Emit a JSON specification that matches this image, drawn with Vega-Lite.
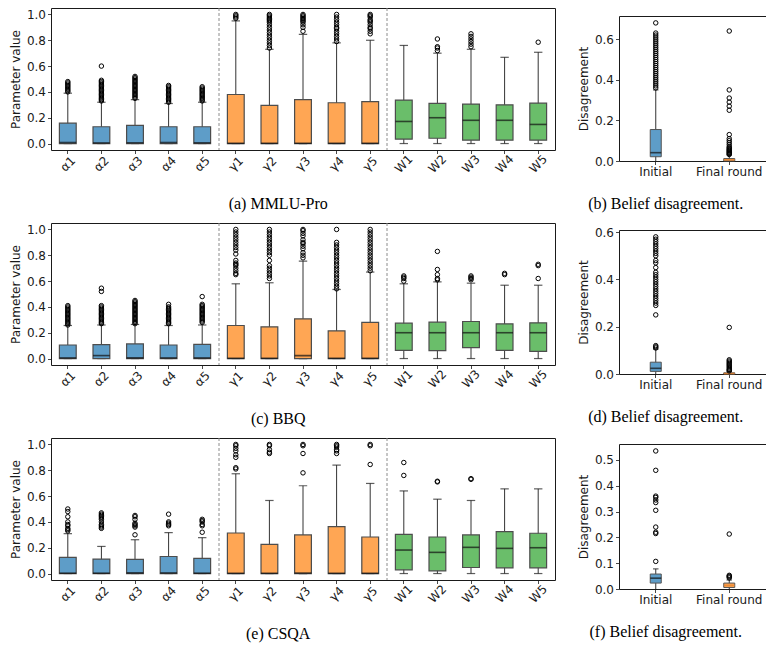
{
  "$schema": "https://vega.github.io/schema/vega-lite/v6.json",
  "padding": {"left": 8, "top": 7, "right": 0, "bottom": 0},
  "background": "white",
  "datasets": {
    "sep": [{"param": "α5"}, {"param": "γ5"}],
    "box": [
      {"ds": "MMLU-Pro", "param": "α1", "grp": "a", "lo": 0, "q1": 0, "med": 0.008, "q3": 0.158, "hi": 0.39},
      {"ds": "MMLU-Pro", "param": "α2", "grp": "a", "lo": 0, "q1": 0, "med": 0.005, "q3": 0.13, "hi": 0.32},
      {"ds": "MMLU-Pro", "param": "α3", "grp": "a", "lo": 0, "q1": 0, "med": 0.006, "q3": 0.14, "hi": 0.34},
      {"ds": "MMLU-Pro", "param": "α4", "grp": "a", "lo": 0, "q1": 0, "med": 0.008, "q3": 0.13, "hi": 0.31},
      {"ds": "MMLU-Pro", "param": "α5", "grp": "a", "lo": 0, "q1": 0, "med": 0.006, "q3": 0.13, "hi": 0.32},
      {"ds": "MMLU-Pro", "param": "γ1", "grp": "g", "lo": 0, "q1": 0, "med": 0.002, "q3": 0.38, "hi": 0.95},
      {"ds": "MMLU-Pro", "param": "γ2", "grp": "g", "lo": 0, "q1": 0, "med": 0.002, "q3": 0.295, "hi": 0.73},
      {"ds": "MMLU-Pro", "param": "γ3", "grp": "g", "lo": 0, "q1": 0, "med": 0.002, "q3": 0.34, "hi": 0.845},
      {"ds": "MMLU-Pro", "param": "γ4", "grp": "g", "lo": 0, "q1": 0, "med": 0.002, "q3": 0.316, "hi": 0.78},
      {"ds": "MMLU-Pro", "param": "γ5", "grp": "g", "lo": 0, "q1": 0, "med": 0.002, "q3": 0.324, "hi": 0.8},
      {"ds": "MMLU-Pro", "param": "W1", "grp": "w", "lo": 0, "q1": 0.034, "med": 0.171, "q3": 0.337, "hi": 0.76},
      {"ds": "MMLU-Pro", "param": "W2", "grp": "w", "lo": 0, "q1": 0.041, "med": 0.2, "q3": 0.311, "hi": 0.7},
      {"ds": "MMLU-Pro", "param": "W3", "grp": "w", "lo": 0, "q1": 0.026, "med": 0.18, "q3": 0.306, "hi": 0.73},
      {"ds": "MMLU-Pro", "param": "W4", "grp": "w", "lo": 0, "q1": 0.026, "med": 0.18, "q3": 0.3, "hi": 0.668},
      {"ds": "MMLU-Pro", "param": "W5", "grp": "w", "lo": 0, "q1": 0.026, "med": 0.148, "q3": 0.313, "hi": 0.707},
      {"ds": "BBQ", "param": "α1", "grp": "a", "lo": 0, "q1": 0, "med": 0.005, "q3": 0.105, "hi": 0.256},
      {"ds": "BBQ", "param": "α2", "grp": "a", "lo": 0, "q1": 0, "med": 0.023, "q3": 0.108, "hi": 0.26},
      {"ds": "BBQ", "param": "α3", "grp": "a", "lo": 0, "q1": 0, "med": 0.005, "q3": 0.113, "hi": 0.264},
      {"ds": "BBQ", "param": "α4", "grp": "a", "lo": 0, "q1": 0, "med": 0.005, "q3": 0.105, "hi": 0.256},
      {"ds": "BBQ", "param": "α5", "grp": "a", "lo": 0, "q1": 0, "med": 0.005, "q3": 0.11, "hi": 0.26},
      {"ds": "BBQ", "param": "γ1", "grp": "g", "lo": 0, "q1": 0, "med": 0.002, "q3": 0.256, "hi": 0.579},
      {"ds": "BBQ", "param": "γ2", "grp": "g", "lo": 0, "q1": 0, "med": 0.002, "q3": 0.246, "hi": 0.587},
      {"ds": "BBQ", "param": "γ3", "grp": "g", "lo": 0, "q1": 0, "med": 0.023, "q3": 0.308, "hi": 0.755},
      {"ds": "BBQ", "param": "γ4", "grp": "g", "lo": 0, "q1": 0, "med": 0.002, "q3": 0.215, "hi": 0.535},
      {"ds": "BBQ", "param": "γ5", "grp": "g", "lo": 0, "q1": 0, "med": 0.002, "q3": 0.28, "hi": 0.67},
      {"ds": "BBQ", "param": "W1", "grp": "w", "lo": 0, "q1": 0.064, "med": 0.2, "q3": 0.274, "hi": 0.579},
      {"ds": "BBQ", "param": "W2", "grp": "w", "lo": 0, "q1": 0.062, "med": 0.2, "q3": 0.282, "hi": 0.594},
      {"ds": "BBQ", "param": "W3", "grp": "w", "lo": 0, "q1": 0.085, "med": 0.2, "q3": 0.287, "hi": 0.584},
      {"ds": "BBQ", "param": "W4", "grp": "w", "lo": 0, "q1": 0.064, "med": 0.2, "q3": 0.269, "hi": 0.568},
      {"ds": "BBQ", "param": "W5", "grp": "w", "lo": 0, "q1": 0.056, "med": 0.2, "q3": 0.277, "hi": 0.568},
      {"ds": "CSQA", "param": "α1", "grp": "a", "lo": 0, "q1": 0, "med": 0.003, "q3": 0.125, "hi": 0.309},
      {"ds": "CSQA", "param": "α2", "grp": "a", "lo": 0, "q1": 0, "med": 0.003, "q3": 0.112, "hi": 0.21},
      {"ds": "CSQA", "param": "α3", "grp": "a", "lo": 0, "q1": 0, "med": 0.005, "q3": 0.109, "hi": 0.262},
      {"ds": "CSQA", "param": "α4", "grp": "a", "lo": 0, "q1": 0, "med": 0.005, "q3": 0.132, "hi": 0.317},
      {"ds": "CSQA", "param": "α5", "grp": "a", "lo": 0, "q1": 0, "med": 0.003, "q3": 0.117, "hi": 0.278},
      {"ds": "CSQA", "param": "γ1", "grp": "g", "lo": 0, "q1": 0, "med": 0.002, "q3": 0.314, "hi": 0.773},
      {"ds": "CSQA", "param": "γ2", "grp": "g", "lo": 0, "q1": 0, "med": 0.002, "q3": 0.226, "hi": 0.566},
      {"ds": "CSQA", "param": "γ3", "grp": "g", "lo": 0, "q1": 0, "med": 0.004, "q3": 0.299, "hi": 0.68},
      {"ds": "CSQA", "param": "γ4", "grp": "g", "lo": 0, "q1": 0, "med": 0.002, "q3": 0.364, "hi": 0.84},
      {"ds": "CSQA", "param": "γ5", "grp": "g", "lo": 0, "q1": 0, "med": 0.002, "q3": 0.283, "hi": 0.698},
      {"ds": "CSQA", "param": "W1", "grp": "w", "lo": 0, "q1": 0.029, "med": 0.182, "q3": 0.304, "hi": 0.64},
      {"ds": "CSQA", "param": "W2", "grp": "w", "lo": 0, "q1": 0.021, "med": 0.164, "q3": 0.283, "hi": 0.576},
      {"ds": "CSQA", "param": "W3", "grp": "w", "lo": 0, "q1": 0.047, "med": 0.203, "q3": 0.299, "hi": 0.566},
      {"ds": "CSQA", "param": "W4", "grp": "w", "lo": 0, "q1": 0.044, "med": 0.195, "q3": 0.325, "hi": 0.656},
      {"ds": "CSQA", "param": "W5", "grp": "w", "lo": 0, "q1": 0.044, "med": 0.2, "q3": 0.312, "hi": 0.656}
    ],
    "out": [
      {"ds": "MMLU-Pro", "param": "α1", "v": [0.40, 0.41, 0.42, 0.43, 0.44, 0.45, 0.46, 0.47, 0.48]},
      {"ds": "MMLU-Pro", "param": "α2", "v": [0.33, 0.34, 0.35, 0.36, 0.37, 0.38, 0.39, 0.40, 0.41, 0.42, 0.43, 0.44, 0.45, 0.46, 0.47, 0.48, 0.49, 0.60]},
      {"ds": "MMLU-Pro", "param": "α3", "v": [0.35, 0.36, 0.37, 0.38, 0.39, 0.40, 0.41, 0.42, 0.43, 0.44, 0.45, 0.46, 0.47, 0.48, 0.49, 0.50, 0.51, 0.52]},
      {"ds": "MMLU-Pro", "param": "α4", "v": [0.32, 0.33, 0.34, 0.35, 0.36, 0.37, 0.38, 0.39, 0.40, 0.41, 0.42, 0.43, 0.44, 0.45]},
      {"ds": "MMLU-Pro", "param": "α5", "v": [0.33, 0.34, 0.35, 0.36, 0.37, 0.38, 0.39, 0.40, 0.41, 0.42, 0.43, 0.44]},
      {"ds": "MMLU-Pro", "param": "γ1", "v": [0.97, 0.98, 0.99, 1.0]},
      {"ds": "MMLU-Pro", "param": "γ2", "v": [0.74, 0.76, 0.78, 0.80, 0.82, 0.84, 0.86, 0.88, 0.90, 0.92, 0.94, 0.95, 0.96, 0.97, 0.98, 0.99, 1.0]},
      {"ds": "MMLU-Pro", "param": "γ3", "v": [0.87, 0.90, 0.92, 0.94, 0.95, 0.96, 0.97, 0.98, 0.99, 1.0]},
      {"ds": "MMLU-Pro", "param": "γ4", "v": [0.79, 0.81, 0.83, 0.85, 0.87, 0.89, 0.90, 0.92, 0.94, 0.96, 0.98, 1.0]},
      {"ds": "MMLU-Pro", "param": "γ5", "v": [0.85, 0.87, 0.89, 0.90, 0.92, 0.94, 0.95, 0.96, 0.98, 0.99, 1.0]},
      {"ds": "MMLU-Pro", "param": "W2", "v": [0.72, 0.74, 0.75, 0.81]},
      {"ds": "MMLU-Pro", "param": "W3", "v": [0.75, 0.77, 0.79, 0.81, 0.83, 0.85]},
      {"ds": "MMLU-Pro", "param": "W5", "v": [0.785]},
      {"ds": "BBQ", "param": "α1", "v": [0.26, 0.27, 0.28, 0.29, 0.30, 0.31, 0.32, 0.33, 0.34, 0.35, 0.36, 0.37, 0.38, 0.39, 0.40, 0.41]},
      {"ds": "BBQ", "param": "α2", "v": [0.27, 0.28, 0.29, 0.30, 0.31, 0.32, 0.33, 0.34, 0.35, 0.36, 0.37, 0.38, 0.39, 0.40, 0.41, 0.52, 0.545]},
      {"ds": "BBQ", "param": "α3", "v": [0.27, 0.28, 0.29, 0.30, 0.31, 0.32, 0.33, 0.34, 0.35, 0.36, 0.37, 0.38, 0.39, 0.40, 0.41, 0.42, 0.43, 0.44, 0.45]},
      {"ds": "BBQ", "param": "α4", "v": [0.27, 0.28, 0.29, 0.30, 0.31, 0.32, 0.33, 0.34, 0.35, 0.36, 0.37, 0.38, 0.39, 0.40, 0.42]},
      {"ds": "BBQ", "param": "α5", "v": [0.28, 0.29, 0.30, 0.31, 0.32, 0.33, 0.34, 0.35, 0.36, 0.37, 0.38, 0.39, 0.40, 0.41, 0.42, 0.48]},
      {"ds": "BBQ", "param": "γ1", "v": [0.65, 0.66, 0.68, 0.70, 0.72, 0.73, 0.74, 0.76, 0.81, 0.84, 0.86, 0.88, 0.90, 0.92, 0.94, 0.96, 0.98, 1.0]},
      {"ds": "BBQ", "param": "γ2", "v": [0.62, 0.64, 0.66, 0.68, 0.70, 0.72, 0.76, 0.80, 0.82, 0.84, 0.86, 0.88, 0.90, 0.92, 0.94, 0.96, 0.98, 1.0]},
      {"ds": "BBQ", "param": "γ3", "v": [0.78, 0.80, 0.82, 0.85, 0.87, 0.89, 0.90, 0.92, 0.95, 0.97, 0.99, 1.0]},
      {"ds": "BBQ", "param": "γ4", "v": [0.54, 0.56, 0.58, 0.60, 0.62, 0.64, 0.66, 0.68, 0.70, 0.72, 0.74, 0.76, 0.78, 0.80, 0.82, 0.84, 0.86, 0.88, 0.90, 1.0]},
      {"ds": "BBQ", "param": "γ5", "v": [0.68, 0.70, 0.72, 0.74, 0.76, 0.78, 0.80, 0.82, 0.84, 0.86, 0.88, 0.90, 0.92, 0.94, 0.96, 0.98, 1.0]},
      {"ds": "BBQ", "param": "W1", "v": [0.60, 0.62, 0.63, 0.64]},
      {"ds": "BBQ", "param": "W2", "v": [0.61, 0.62, 0.65, 0.69, 0.83]},
      {"ds": "BBQ", "param": "W3", "v": [0.61, 0.62, 0.63, 0.64]},
      {"ds": "BBQ", "param": "W4", "v": [0.65, 0.66]},
      {"ds": "BBQ", "param": "W5", "v": [0.62, 0.72, 0.73]},
      {"ds": "CSQA", "param": "α1", "v": [0.33, 0.34, 0.35, 0.37, 0.38, 0.40, 0.44, 0.48, 0.50]},
      {"ds": "CSQA", "param": "α2", "v": [0.35, 0.36, 0.37, 0.38, 0.40, 0.42, 0.43, 0.44, 0.45, 0.46, 0.47]},
      {"ds": "CSQA", "param": "α3", "v": [0.30, 0.36, 0.37, 0.38, 0.39, 0.42, 0.44, 0.45]},
      {"ds": "CSQA", "param": "α4", "v": [0.37, 0.38, 0.39, 0.40, 0.46]},
      {"ds": "CSQA", "param": "α5", "v": [0.32, 0.37, 0.38, 0.40, 0.41, 0.42]},
      {"ds": "CSQA", "param": "γ1", "v": [0.81, 0.82, 0.90, 0.92, 0.95, 0.97, 0.99, 1.0]},
      {"ds": "CSQA", "param": "γ2", "v": [0.93, 0.94, 0.96, 0.99, 1.0]},
      {"ds": "CSQA", "param": "γ3", "v": [0.78, 0.93, 0.99, 1.0]},
      {"ds": "CSQA", "param": "γ4", "v": [0.93, 0.95, 0.96, 0.98, 0.99, 1.0]},
      {"ds": "CSQA", "param": "γ5", "v": [0.845, 0.99, 1.0]},
      {"ds": "CSQA", "param": "W1", "v": [0.76, 0.86]},
      {"ds": "CSQA", "param": "W2", "v": [0.71, 0.715]},
      {"ds": "CSQA", "param": "W3", "v": [0.73, 0.735]}
    ],
    "dbox": [
      {"ds": "MMLU-Pro", "stage": "Initial", "lo": 0, "q1": 0.021, "med": 0.041, "q3": 0.155, "hi": 0.35},
      {"ds": "MMLU-Pro", "stage": "Final round", "lo": 0, "q1": 0, "med": 0.006, "q3": 0.012, "hi": 0.03},
      {"ds": "BBQ", "stage": "Initial", "lo": 0, "q1": 0.011, "med": 0.024, "q3": 0.05, "hi": 0.105},
      {"ds": "BBQ", "stage": "Final round", "lo": 0, "q1": 0, "med": 0.002, "q3": 0.005, "hi": 0.011},
      {"ds": "CSQA", "stage": "Initial", "lo": 0, "q1": 0.023, "med": 0.042, "q3": 0.058, "hi": 0.078},
      {"ds": "CSQA", "stage": "Final round", "lo": 0, "q1": 0.006, "med": 0.014, "q3": 0.023, "hi": 0.035}
    ],
    "dout": [
      {"ds": "MMLU-Pro", "stage": "Initial", "v": [0.36, 0.37, 0.38, 0.39, 0.40, 0.41, 0.42, 0.43, 0.44, 0.45, 0.46, 0.47, 0.48, 0.49, 0.50, 0.51, 0.52, 0.53, 0.54, 0.55, 0.56, 0.57, 0.58, 0.59, 0.60, 0.61, 0.62, 0.63, 0.68]},
      {"ds": "MMLU-Pro", "stage": "Final round", "v": [0.032, 0.036, 0.04, 0.044, 0.048, 0.052, 0.056, 0.06, 0.065, 0.07, 0.08, 0.09, 0.10, 0.11, 0.13, 0.25, 0.27, 0.29, 0.31, 0.35, 0.64]},
      {"ds": "BBQ", "stage": "Initial", "v": [0.11, 0.115, 0.12, 0.25, 0.29, 0.30, 0.31, 0.32, 0.33, 0.34, 0.35, 0.36, 0.37, 0.38, 0.39, 0.40, 0.41, 0.42, 0.43, 0.45, 0.47, 0.48, 0.50, 0.51, 0.52, 0.53, 0.54, 0.55, 0.56, 0.57, 0.58]},
      {"ds": "BBQ", "stage": "Final round", "v": [0.013, 0.017, 0.02, 0.025, 0.03, 0.035, 0.04, 0.045, 0.05, 0.055, 0.06, 0.197]},
      {"ds": "CSQA", "stage": "Initial", "v": [0.107, 0.215, 0.22, 0.24, 0.305, 0.335, 0.345, 0.355, 0.36, 0.46, 0.535]},
      {"ds": "CSQA", "stage": "Final round", "v": [0.043, 0.047, 0.05, 0.053, 0.213]}
    ]
  },
  "config": {
    "view": {"stroke": "#1a1a1a", "strokeWidth": 1},
    "axis": {"grid": false, "domain": false, "tickColor": "#1a1a1a", "tickSize": 3.5, "tickWidth": 0.8, "labelFont": "DejaVu Sans", "labelFontSize": 12, "labelColor": "#1a1a1a", "labelPadding": 2, "labelOverlap": false, "titleFont": "DejaVu Sans", "titleFontSize": 12, "titleFontWeight": "normal", "titleColor": "#1a1a1a", "titlePadding": 4},
    "title": {"font": "Liberation Serif", "fontSize": 16, "fontWeight": "normal", "color": "#000000"}
  },
  "hconcat": [
    {
      "spacing": 9,
      "vconcat": [
        {
          "width": 504, "height": 142,
          "title": {"text": "(a) MMLU-Pro", "orient": "bottom", "anchor": "middle", "frame": "bounds", "offset": 21, "dx": -4},
          "encoding": {"x": {"field": "param", "type": "nominal", "title": null, "sort": null, "scale": {"type": "band", "domain": ["α1", "α2", "α3", "α4", "α5", "γ1", "γ2", "γ3", "γ4", "γ5", "W1", "W2", "W3", "W4", "W5"], "paddingInner": 0, "paddingOuter": 0}, "axis": {"labelAngle": -45, "labelAlign": "center", "labelBaseline": "middle", "labelPadding": 10}}},
          "layer": [
            {"data": {"name": "sep"}, "mark": {"type": "rule", "color": "#8c8c8c", "strokeDash": [3, 2], "strokeWidth": 1}, "encoding": {"x": {"field": "param", "type": "nominal", "bandPosition": 1}}},
            {"data": {"name": "box"}, "transform": [{"filter": "datum.ds === 'MMLU-Pro'"}], "mark": {"type": "rule", "color": "#333333", "strokeWidth": 1}, "encoding": {"y": {"field": "lo", "type": "quantitative", "title": "Parameter value", "scale": {"domain": [-0.05, 1.05], "nice": false, "zero": false}, "axis": {"values": [0, 0.2, 0.4, 0.6, 0.8, 1], "tickCount": 20, "format": ".1f", "labelOverlap": false}}, "y2": {"field": "hi"}}},
            {"data": {"name": "box"}, "transform": [{"filter": "datum.ds === 'MMLU-Pro'"}], "mark": {"type": "tick", "size": 8.4, "thickness": 1.2, "color": "#1a1a1a"}, "encoding": {"y": {"field": "hi", "type": "quantitative", "title": "Parameter value"}}},
            {"data": {"name": "box"}, "transform": [{"filter": "datum.ds === 'MMLU-Pro'"}], "mark": {"type": "tick", "size": 8.4, "thickness": 1.2, "color": "#1a1a1a"}, "encoding": {"y": {"field": "lo", "type": "quantitative", "title": "Parameter value"}}},
            {"data": {"name": "box"}, "transform": [{"filter": "datum.ds === 'MMLU-Pro'"}], "mark": {"type": "bar", "width": {"band": 0.5}, "stroke": "#4d4d4d", "strokeWidth": 1.2}, "encoding": {"y": {"field": "q1", "type": "quantitative", "title": "Parameter value"}, "y2": {"field": "q3"}, "fill": {"field": "grp", "type": "nominal", "scale": {"domain": ["a", "g", "w"], "range": ["#5e9dc8", "#ffa654", "#6abe6a"]}, "legend": null}}},
            {"data": {"name": "box"}, "transform": [{"filter": "datum.ds === 'MMLU-Pro'"}], "mark": {"type": "tick", "size": 16.8, "thickness": 1.6, "color": "#111111"}, "encoding": {"y": {"field": "med", "type": "quantitative", "title": "Parameter value"}}},
            {"data": {"name": "out"}, "transform": [{"filter": "datum.ds === 'MMLU-Pro'"}, {"flatten": ["v"]}], "mark": {"type": "point", "shape": "circle", "filled": false, "stroke": "#000000", "strokeWidth": 1, "size": 20, "opacity": 1}, "encoding": {"y": {"field": "v", "type": "quantitative", "title": "Parameter value"}}}
          ]
        },
        {
          "width": 504, "height": 142,
          "title": {"text": "(c) BBQ", "orient": "bottom", "anchor": "middle", "frame": "bounds", "offset": 21, "dx": -4},
          "encoding": {"x": {"field": "param", "type": "nominal", "title": null, "sort": null, "scale": {"type": "band", "domain": ["α1", "α2", "α3", "α4", "α5", "γ1", "γ2", "γ3", "γ4", "γ5", "W1", "W2", "W3", "W4", "W5"], "paddingInner": 0, "paddingOuter": 0}, "axis": {"labelAngle": -45, "labelAlign": "center", "labelBaseline": "middle", "labelPadding": 10}}},
          "layer": [
            {"data": {"name": "sep"}, "mark": {"type": "rule", "color": "#8c8c8c", "strokeDash": [3, 2], "strokeWidth": 1}, "encoding": {"x": {"field": "param", "type": "nominal", "bandPosition": 1}}},
            {"data": {"name": "box"}, "transform": [{"filter": "datum.ds === 'BBQ'"}], "mark": {"type": "rule", "color": "#333333", "strokeWidth": 1}, "encoding": {"y": {"field": "lo", "type": "quantitative", "title": "Parameter value", "scale": {"domain": [-0.05, 1.05], "nice": false, "zero": false}, "axis": {"values": [0, 0.2, 0.4, 0.6, 0.8, 1], "tickCount": 20, "format": ".1f", "labelOverlap": false}}, "y2": {"field": "hi"}}},
            {"data": {"name": "box"}, "transform": [{"filter": "datum.ds === 'BBQ'"}], "mark": {"type": "tick", "size": 8.4, "thickness": 1.2, "color": "#1a1a1a"}, "encoding": {"y": {"field": "hi", "type": "quantitative", "title": "Parameter value"}}},
            {"data": {"name": "box"}, "transform": [{"filter": "datum.ds === 'BBQ'"}], "mark": {"type": "tick", "size": 8.4, "thickness": 1.2, "color": "#1a1a1a"}, "encoding": {"y": {"field": "lo", "type": "quantitative", "title": "Parameter value"}}},
            {"data": {"name": "box"}, "transform": [{"filter": "datum.ds === 'BBQ'"}], "mark": {"type": "bar", "width": {"band": 0.5}, "stroke": "#4d4d4d", "strokeWidth": 1.2}, "encoding": {"y": {"field": "q1", "type": "quantitative", "title": "Parameter value"}, "y2": {"field": "q3"}, "fill": {"field": "grp", "type": "nominal", "scale": {"domain": ["a", "g", "w"], "range": ["#5e9dc8", "#ffa654", "#6abe6a"]}, "legend": null}}},
            {"data": {"name": "box"}, "transform": [{"filter": "datum.ds === 'BBQ'"}], "mark": {"type": "tick", "size": 16.8, "thickness": 1.6, "color": "#111111"}, "encoding": {"y": {"field": "med", "type": "quantitative", "title": "Parameter value"}}},
            {"data": {"name": "out"}, "transform": [{"filter": "datum.ds === 'BBQ'"}, {"flatten": ["v"]}], "mark": {"type": "point", "shape": "circle", "filled": false, "stroke": "#000000", "strokeWidth": 1, "size": 20, "opacity": 1}, "encoding": {"y": {"field": "v", "type": "quantitative", "title": "Parameter value"}}}
          ]
        },
        {
          "width": 504, "height": 142,
          "title": {"text": "(e) CSQA", "orient": "bottom", "anchor": "middle", "frame": "bounds", "offset": 21, "dx": -4},
          "encoding": {"x": {"field": "param", "type": "nominal", "title": null, "sort": null, "scale": {"type": "band", "domain": ["α1", "α2", "α3", "α4", "α5", "γ1", "γ2", "γ3", "γ4", "γ5", "W1", "W2", "W3", "W4", "W5"], "paddingInner": 0, "paddingOuter": 0}, "axis": {"labelAngle": -45, "labelAlign": "center", "labelBaseline": "middle", "labelPadding": 10}}},
          "layer": [
            {"data": {"name": "sep"}, "mark": {"type": "rule", "color": "#8c8c8c", "strokeDash": [3, 2], "strokeWidth": 1}, "encoding": {"x": {"field": "param", "type": "nominal", "bandPosition": 1}}},
            {"data": {"name": "box"}, "transform": [{"filter": "datum.ds === 'CSQA'"}], "mark": {"type": "rule", "color": "#333333", "strokeWidth": 1}, "encoding": {"y": {"field": "lo", "type": "quantitative", "title": "Parameter value", "scale": {"domain": [-0.05, 1.05], "nice": false, "zero": false}, "axis": {"values": [0, 0.2, 0.4, 0.6, 0.8, 1], "tickCount": 20, "format": ".1f", "labelOverlap": false}}, "y2": {"field": "hi"}}},
            {"data": {"name": "box"}, "transform": [{"filter": "datum.ds === 'CSQA'"}], "mark": {"type": "tick", "size": 8.4, "thickness": 1.2, "color": "#1a1a1a"}, "encoding": {"y": {"field": "hi", "type": "quantitative", "title": "Parameter value"}}},
            {"data": {"name": "box"}, "transform": [{"filter": "datum.ds === 'CSQA'"}], "mark": {"type": "tick", "size": 8.4, "thickness": 1.2, "color": "#1a1a1a"}, "encoding": {"y": {"field": "lo", "type": "quantitative", "title": "Parameter value"}}},
            {"data": {"name": "box"}, "transform": [{"filter": "datum.ds === 'CSQA'"}], "mark": {"type": "bar", "width": {"band": 0.5}, "stroke": "#4d4d4d", "strokeWidth": 1.2}, "encoding": {"y": {"field": "q1", "type": "quantitative", "title": "Parameter value"}, "y2": {"field": "q3"}, "fill": {"field": "grp", "type": "nominal", "scale": {"domain": ["a", "g", "w"], "range": ["#5e9dc8", "#ffa654", "#6abe6a"]}, "legend": null}}},
            {"data": {"name": "box"}, "transform": [{"filter": "datum.ds === 'CSQA'"}], "mark": {"type": "tick", "size": 16.8, "thickness": 1.6, "color": "#111111"}, "encoding": {"y": {"field": "med", "type": "quantitative", "title": "Parameter value"}}},
            {"data": {"name": "out"}, "transform": [{"filter": "datum.ds === 'CSQA'"}, {"flatten": ["v"]}], "mark": {"type": "point", "shape": "circle", "filled": false, "stroke": "#000000", "strokeWidth": 1, "size": 20, "opacity": 1}, "encoding": {"y": {"field": "v", "type": "quantitative", "title": "Parameter value"}}}
          ]
        }
      ]
    },
    {
      "spacing": 6,
      "vconcat": [
        {"width": 147, "height": 1, "view": {"stroke": null}, "data": {"values": []}, "mark": {"type": "point"}, "encoding": {}},
        {
          "spacing": 13,
          "vconcat": [
            {
              "width": 147, "height": 145,
              "title": {"text": "(b) Belief disagreement.", "orient": "bottom", "anchor": "middle", "frame": "bounds", "offset": 18, "dx": -6},
              "encoding": {"x": {"field": "stage", "type": "nominal", "title": null, "sort": null, "scale": {"type": "band", "domain": ["Initial", "Final round"], "paddingInner": 0, "paddingOuter": 0}, "axis": {"labelAngle": 0}}},
              "layer": [
                {"data": {"name": "dbox"}, "transform": [{"filter": "datum.ds === 'MMLU-Pro'"}], "mark": {"type": "rule", "color": "#333333", "strokeWidth": 1}, "encoding": {"y": {"field": "lo", "type": "quantitative", "title": "Disagreement", "scale": {"domain": [0, 0.714], "nice": false, "zero": false}, "axis": {"values": [0, 0.2, 0.4, 0.6], "tickCount": 20, "format": ".1f", "labelOverlap": false}}, "y2": {"field": "hi"}}},
                {"data": {"name": "dbox"}, "transform": [{"filter": "datum.ds === 'MMLU-Pro'"}], "mark": {"type": "tick", "size": 5.5, "thickness": 1.2, "color": "#1a1a1a"}, "encoding": {"y": {"field": "hi", "type": "quantitative", "title": "Disagreement"}}},
                {"data": {"name": "dbox"}, "transform": [{"filter": "datum.ds === 'MMLU-Pro'"}], "mark": {"type": "bar", "width": {"band": 0.15}, "stroke": "#555555", "strokeWidth": 1}, "encoding": {"y": {"field": "q1", "type": "quantitative", "title": "Disagreement"}, "y2": {"field": "q3"}, "fill": {"field": "stage", "type": "nominal", "scale": {"domain": ["Initial", "Final round"], "range": ["#78afd7", "#f0a868"]}, "legend": null}}},
                {"data": {"name": "dbox"}, "transform": [{"filter": "datum.ds === 'MMLU-Pro'"}], "mark": {"type": "tick", "size": 11, "thickness": 1.6}, "encoding": {"y": {"field": "med", "type": "quantitative", "title": "Disagreement"}, "color": {"field": "stage", "type": "nominal", "scale": {"domain": ["Initial", "Final round"], "range": ["#111111", "#e8822a"]}, "legend": null}}},
                {"data": {"name": "dout"}, "transform": [{"filter": "datum.ds === 'MMLU-Pro'"}, {"flatten": ["v"]}], "mark": {"type": "point", "shape": "circle", "filled": false, "stroke": "#000000", "strokeWidth": 1, "size": 20, "opacity": 1}, "encoding": {"y": {"field": "v", "type": "quantitative", "title": "Disagreement"}}}
              ]
            },
            {
              "spacing": 18,
              "vconcat": [
                {
                  "width": 147, "height": 144,
                  "title": {"text": "(d) Belief disagreement.", "orient": "bottom", "anchor": "middle", "frame": "bounds", "offset": 18, "dx": -6},
                  "encoding": {"x": {"field": "stage", "type": "nominal", "title": null, "sort": null, "scale": {"type": "band", "domain": ["Initial", "Final round"], "paddingInner": 0, "paddingOuter": 0}, "axis": {"labelAngle": 0}}},
                  "layer": [
                    {"data": {"name": "dbox"}, "transform": [{"filter": "datum.ds === 'BBQ'"}], "mark": {"type": "rule", "color": "#333333", "strokeWidth": 1}, "encoding": {"y": {"field": "lo", "type": "quantitative", "title": "Disagreement", "scale": {"domain": [0, 0.609], "nice": false, "zero": false}, "axis": {"values": [0, 0.2, 0.4, 0.6], "tickCount": 20, "format": ".1f", "labelOverlap": false}}, "y2": {"field": "hi"}}},
                    {"data": {"name": "dbox"}, "transform": [{"filter": "datum.ds === 'BBQ'"}], "mark": {"type": "tick", "size": 5.5, "thickness": 1.2, "color": "#1a1a1a"}, "encoding": {"y": {"field": "hi", "type": "quantitative", "title": "Disagreement"}}},
                    {"data": {"name": "dbox"}, "transform": [{"filter": "datum.ds === 'BBQ'"}], "mark": {"type": "bar", "width": {"band": 0.15}, "stroke": "#555555", "strokeWidth": 1}, "encoding": {"y": {"field": "q1", "type": "quantitative", "title": "Disagreement"}, "y2": {"field": "q3"}, "fill": {"field": "stage", "type": "nominal", "scale": {"domain": ["Initial", "Final round"], "range": ["#78afd7", "#f0a868"]}, "legend": null}}},
                    {"data": {"name": "dbox"}, "transform": [{"filter": "datum.ds === 'BBQ'"}], "mark": {"type": "tick", "size": 11, "thickness": 1.6}, "encoding": {"y": {"field": "med", "type": "quantitative", "title": "Disagreement"}, "color": {"field": "stage", "type": "nominal", "scale": {"domain": ["Initial", "Final round"], "range": ["#111111", "#e8822a"]}, "legend": null}}},
                    {"data": {"name": "dout"}, "transform": [{"filter": "datum.ds === 'BBQ'"}, {"flatten": ["v"]}], "mark": {"type": "point", "shape": "circle", "filled": false, "stroke": "#000000", "strokeWidth": 1, "size": 20, "opacity": 1}, "encoding": {"y": {"field": "v", "type": "quantitative", "title": "Disagreement"}}}
                  ]
                },
                {
                  "width": 147, "height": 145,
                  "title": {"text": "(f) Belief disagreement.", "orient": "bottom", "anchor": "middle", "frame": "bounds", "offset": 18, "dx": -6},
                  "encoding": {"x": {"field": "stage", "type": "nominal", "title": null, "sort": null, "scale": {"type": "band", "domain": ["Initial", "Final round"], "paddingInner": 0, "paddingOuter": 0}, "axis": {"labelAngle": 0}}},
                  "layer": [
                    {"data": {"name": "dbox"}, "transform": [{"filter": "datum.ds === 'CSQA'"}], "mark": {"type": "rule", "color": "#333333", "strokeWidth": 1}, "encoding": {"y": {"field": "lo", "type": "quantitative", "title": "Disagreement", "scale": {"domain": [0, 0.562], "nice": false, "zero": false}, "axis": {"values": [0, 0.1, 0.2, 0.3, 0.4, 0.5], "tickCount": 20, "format": ".1f", "labelOverlap": false}}, "y2": {"field": "hi"}}},
                    {"data": {"name": "dbox"}, "transform": [{"filter": "datum.ds === 'CSQA'"}], "mark": {"type": "tick", "size": 5.5, "thickness": 1.2, "color": "#1a1a1a"}, "encoding": {"y": {"field": "hi", "type": "quantitative", "title": "Disagreement"}}},
                    {"data": {"name": "dbox"}, "transform": [{"filter": "datum.ds === 'CSQA'"}], "mark": {"type": "bar", "width": {"band": 0.15}, "stroke": "#555555", "strokeWidth": 1}, "encoding": {"y": {"field": "q1", "type": "quantitative", "title": "Disagreement"}, "y2": {"field": "q3"}, "fill": {"field": "stage", "type": "nominal", "scale": {"domain": ["Initial", "Final round"], "range": ["#78afd7", "#f0a868"]}, "legend": null}}},
                    {"data": {"name": "dbox"}, "transform": [{"filter": "datum.ds === 'CSQA'"}], "mark": {"type": "tick", "size": 11, "thickness": 1.6}, "encoding": {"y": {"field": "med", "type": "quantitative", "title": "Disagreement"}, "color": {"field": "stage", "type": "nominal", "scale": {"domain": ["Initial", "Final round"], "range": ["#111111", "#e8822a"]}, "legend": null}}},
                    {"data": {"name": "dout"}, "transform": [{"filter": "datum.ds === 'CSQA'"}, {"flatten": ["v"]}], "mark": {"type": "point", "shape": "circle", "filled": false, "stroke": "#000000", "strokeWidth": 1, "size": 20, "opacity": 1}, "encoding": {"y": {"field": "v", "type": "quantitative", "title": "Disagreement"}}}
                  ]
                }
              ]
            }
          ]
        }
      ]
    }
  ],
  "spacing": 20
}
